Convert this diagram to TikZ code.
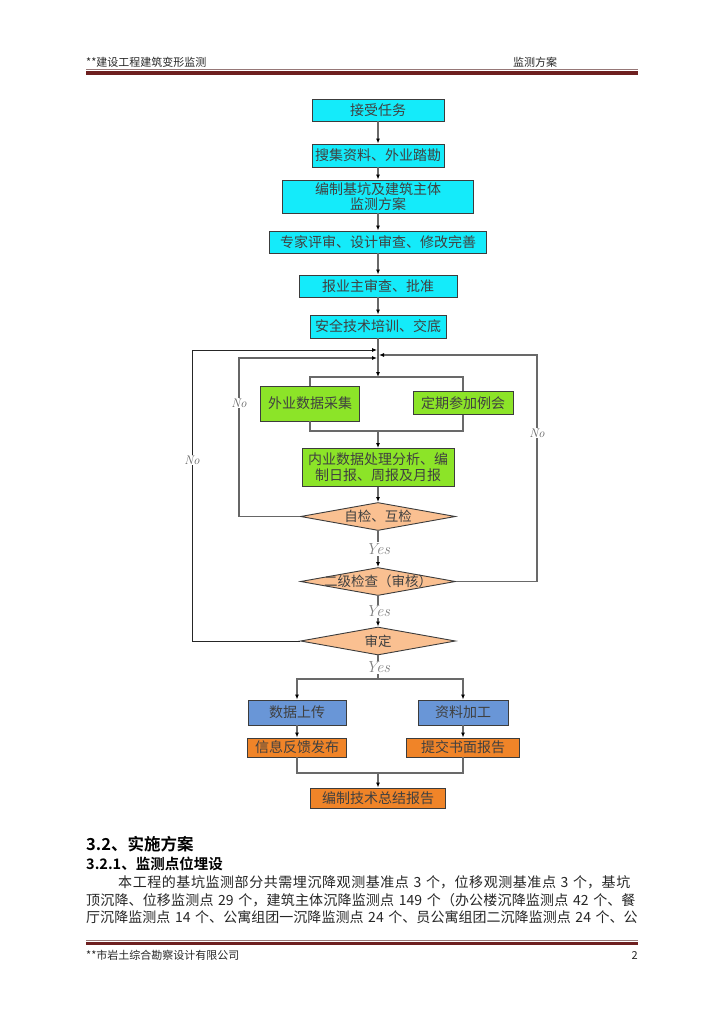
\documentclass[tikz,border=0pt]{standalone}
\usepackage{fontspec}
\newfontfamily\cjk{Noto Sans CJK SC}[BoldFont={Noto Sans CJK SC Bold}]
\usetikzlibrary{shapes.geometric,arrows.meta}
\XeTeXlinebreaklocale "zh"
\XeTeXlinebreakskip=0pt plus 2pt
\definecolor{boxline}{RGB}{60,60,60}
\definecolor{boxcyan}{RGB}{20,235,250}
\definecolor{boxgreen}{RGB}{140,228,40}
\definecolor{boxpeach}{RGB}{250,192,145}
\definecolor{boxblue}{RGB}{105,150,215}
\definecolor{boxorange}{RGB}{240,132,40}
\definecolor{linkgray}{RGB}{105,105,105}
\definecolor{rulered}{RGB}{110,32,32}
\definecolor{rulethin}{RGB}{150,120,120}
\tikzset{
  flowbox/.style={draw=boxline, line width=0.9pt, inner sep=0pt, text=black!75, align=center},
  cyanbox/.style={flowbox, fill=boxcyan},
  greenbox/.style={flowbox, fill=boxgreen},
  bluebox/.style={flowbox, fill=boxblue},
  orangebox/.style={flowbox, fill=boxorange},
  checkbox/.style={diamond, aspect=5.5, draw=boxline, line width=0.9pt, fill=boxpeach,
    inner sep=0pt, minimum width=155pt, minimum height=28pt, text=black!75,
    font=\cjk\fontsize{13.5pt}{14pt}\selectfont},
  link/.style={draw=linkgray, line width=1.5pt},
  outloop/.style={draw=black!85, line width=0.8pt},
  inloop/.style={draw=black!60, line width=1.1pt},
  yeslabel/.style={font=\rmfamily\itshape\fontsize{16pt}{16pt}\selectfont, text=black!50,
    fill=white, inner sep=1pt},
  nolabel/.style={font=\rmfamily\itshape\fontsize{12.5pt}{12.5pt}\selectfont, text=black!60,
    fill=white, inner sep=0.5pt},
  pagetext/.style={inner sep=0pt, font=\cjk\fontsize{11pt}{12pt}\selectfont, text=black!85},
  headtext/.style={inner sep=0pt, anchor=west, font=\cjk\bfseries\fontsize{16.5pt}{17pt}\selectfont},
  subheadtext/.style={inner sep=0pt, anchor=west, font=\cjk\bfseries\fontsize{14.5pt}{15pt}\selectfont},
  bodyline/.style={inner sep=0pt, anchor=west, text width=552pt, text=black!85,
    font=\cjk\fontsize{14pt}{17pt}\selectfont,
    execute at begin node={\parindent=0pt\parfillskip=0pt\tolerance=10000\relax}}
}
\begin{document}
\begin{tikzpicture}[x=1pt,y=-1pt,
    >={Latex[length=5pt,width=4pt,color=black]},
    font=\cjk\fontsize{14pt}{15pt}\selectfont]
  \fill[white] (0,0) rectangle (724,1024);
  \useasboundingbox (0,0) rectangle (724,1024);
  % header
  \node[pagetext,anchor=west] (htitle) at (86,62) {**建设工程建筑变形监测};
  \node[pagetext,anchor=west] (hpart) at (513,62) {监测方案};
  \draw[rulethin, line width=1pt] (86,69.5) -- (638,69.5);
  \draw[rulered, line width=4pt] (86,73) -- (638,73);
  % flow chart
  \path
    (378,110) node[cyanbox, minimum width=132pt, minimum height=22pt] (task){接受任务}
    (378,155.5) node[cyanbox, minimum width=132pt, minimum height=23pt] (collect){搜集资料、外业踏勘}
    (378,196.5) node[cyanbox, minimum width=191pt, minimum height=33pt] (plan){编制基坑及建筑主体\\监测方案}
    (378,242) node[cyanbox, minimum width=217pt, minimum height=22pt] (review){专家评审、设计审查、修改完善}
    (378,286) node[cyanbox, minimum width=158pt, minimum height=22pt] (approve){报业主审查、批准}
    (378,326.5) node[cyanbox, minimum width=136pt, minimum height=23pt] (train){安全技术培训、交底}
    (310,403.5) node[greenbox, minimum width=99pt, minimum height=35pt] (field){外业数据采集}
    (463,403) node[greenbox, minimum width=100pt, minimum height=23pt] (meet){定期参加例会}
    (378,467.5) node[greenbox, minimum width=152pt, minimum height=38pt,
      font=\cjk\fontsize{14pt}{16pt}\selectfont] (proc){内业数据处理分析、编\\制日报、周报及月报}
    (378,516.5) node[checkbox] (self){\makebox[0pt]{自检、互检}}
    (378,581.5) node[checkbox] (second){\makebox[0pt]{二级检查（审核）}}
    (378,641) node[checkbox] (final){\makebox[0pt]{审定}}
    (297,712.5) node[bluebox, minimum width=98pt, minimum height=25pt] (upload){数据上传}
    (463,712.5) node[bluebox, minimum width=90pt, minimum height=25pt] (edit){资料加工}
    (297,747.5) node[orangebox, minimum width=99pt, minimum height=19pt] (feedback){信息反馈发布}
    (463,747.5) node[orangebox, minimum width=113pt, minimum height=19pt] (report){提交书面报告}
    (378,798) node[orangebox, minimum width=135pt, minimum height=20pt] (summary){编制技术总结报告};
  \coordinate (brtop) at (378,377);
  \coordinate (brright) at (463,377);
  \coordinate (brbot) at (378,431);
  \coordinate (brbotright) at (463,431);
  \coordinate (split) at (378,679);
  \coordinate (merge) at (378,773);
  \coordinate (outcorner) at (192,350);
  \coordinate (outend) at (377,350);
  \coordinate (incorner) at (239,358);
  \coordinate (inend) at (377,358);
  \coordinate (rcorner) at (537,355);
  \coordinate (rend) at (379,355);
  \begin{scope}[link]
    \draw[->] (task) -- (collect);
    \draw[->] (collect) -- (plan);
    \draw[->] (plan) -- (review);
    \draw[->] (review) -- (approve);
    \draw[->] (approve) -- (train);
    \draw[->] (train) -- (brtop);
    \draw (field.north) |- (brright) -- (meet.north);
    \draw (field.south) |- (brbotright) -- (meet.south);
    \draw[->] (brbot) -- (proc);
    \draw[->] (proc) -- (self);
    \draw[->] (self) -- node[yeslabel] (yes1){Yes} (second);
    \draw[->] (second) -- node[yeslabel] (yes2){Yes} (final);
    \draw (final) -- node[yeslabel] (yes3){Yes} (split);
    \draw[->] (split) -| (upload);
    \draw[->] (split) -| (edit);
    \draw[->] (upload) -- (feedback);
    \draw[->] (edit) -- (report);
    \draw (feedback) |- (merge) -| (report);
    \draw[->] (merge) -- (summary);
    \draw[->] (second.east) -| (rcorner) -- (rend);
  \end{scope}
  \draw[outloop,->] (final.west) -| (outcorner) -- (outend);
  \draw[inloop,->] (self.west) -| (incorner) -- (inend);
  \node[nolabel] (no1) at (239,403) {No};
  \node[nolabel] (no2) at (192,460) {No};
  \node[nolabel] (no3) at (537,433) {No};
  % text below
  \node[headtext] (sec) at (86,844) {3.2、实施方案};
  \node[subheadtext] (subsec) at (86,863.5) {3.2.1、监测点位埋设};
  \node[bodyline, text width=520pt] (para1) at (118,882.5) {本工程的基坑监测部分共需埋沉降观测基准点 3 个，位移观测基准点 3 个，基坑};
  \node[bodyline] (para2) at (86,900) {顶沉降、位移监测点 29 个，建筑主体沉降监测点 149 个（办公楼沉降监测点 42 个、餐};
  \node[bodyline] (para3) at (86,917.5) {厅沉降监测点 14 个、公寓组团一沉降监测点 24 个、员公寓组团二沉降监测点 24 个、公};
  % footer
  \draw[rulethin, line width=1pt] (86,940) -- (638,940);
  \draw[rulered, line width=3.5pt] (86,943.3) -- (638,943.3);
  \node[pagetext,anchor=west] (fcompany) at (86,955) {**市岩土综合勘察设计有限公司};
  \node[pagetext,anchor=east] (fpage) at (638,955) {2};
\end{tikzpicture}
\end{document}
